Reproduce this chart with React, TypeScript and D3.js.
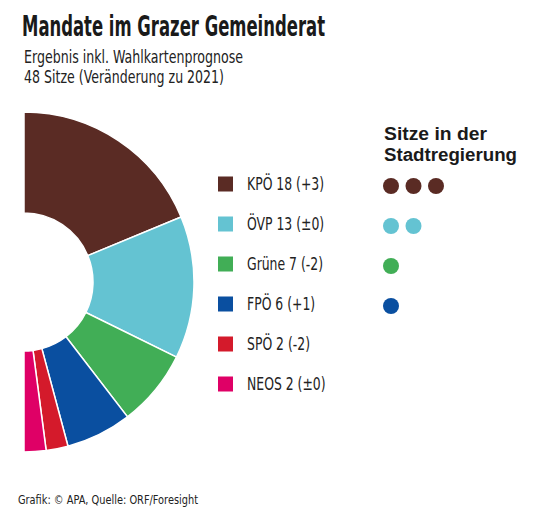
import * as d3 from "d3";
import { useRef, useEffect } from "react";

const parties = ["KPÖ", "ÖVP", "Grüne", "FPÖ", "SPÖ", "NEOS"];
const seats = [18, 13, 7, 6, 2, 2];
const changes = ["+3", "±0", "-2", "+1", "-2", "±0"];
const govSeats = [3, 2, 1, 1, 0, 0];
const colors = ["#5a2b24", "#64c3d2", "#41ae56", "#0a4fa0", "#d41a2b", "#df0066"];

const NARROW = "'Liberation Sans Narrow', 'DejaVu Sans Condensed', 'Roboto', sans-serif";
const BOLD = "'Liberation Sans', Arial, sans-serif";

function App() {
  const svgRef = useRef<SVGSVGElement>(null);

  useEffect(() => {
    const WIDTH = 556;
    const HEIGHT = 517;
    const svg = d3.select(svgRef.current).attr("width", WIDTH).attr("height", HEIGHT);
    svg.selectAll("*").remove();

    const data = parties.map((p, i) => ({ party: p, seats: seats[i], change: changes[i], gov: govSeats[i], color: colors[i] }));

    // title block
    svg.append("text")
      .attr("x", 22).attr("y", 35.5)
      .attr("font-family", NARROW).attr("font-weight", "bold").attr("font-size", 27.5)
      .attr("textLength", 303).attr("lengthAdjust", "spacingAndGlyphs")
      .attr("fill", "#1a1a1a")
      .text("Mandate im Grazer Gemeinderat");
    svg.append("text")
      .attr("x", 24).attr("y", 62.5)
      .attr("font-family", NARROW).attr("font-size", 17)
      .attr("textLength", 219).attr("lengthAdjust", "spacingAndGlyphs")
      .attr("fill", "#222")
      .text("Ergebnis inkl. Wahlkartenprognose");
    svg.append("text")
      .attr("x", 24).attr("y", 82.5)
      .attr("font-family", NARROW).attr("font-size", 17)
      .attr("textLength", 200).attr("lengthAdjust", "spacingAndGlyphs")
      .attr("fill", "#222")
      .text("48 Sitze (Veränderung zu 2021)");

    // half donut
    const pie = d3.pie<any>().value(d => d.seats).sort(null).startAngle(0).endAngle(Math.PI);
    const arc = d3.arc<any>().innerRadius(69).outerRadius(170);
    svg.append("g")
      .attr("transform", "translate(24, 282)")
      .selectAll("path")
      .data(pie(data))
      .join("path")
      .attr("d", arc)
      .attr("fill", d => d.data.color)
      .attr("stroke", "white")
      .attr("stroke-width", 1.5);

    // legend
    const y = d3.scalePoint<string>().domain(parties).range([184, 384]);
    const legend = svg.append("g").selectAll("g")
      .data(data)
      .join("g")
      .attr("transform", d => `translate(218, ${y(d.party)})`);
    legend.append("rect")
      .attr("x", 0).attr("y", -7.5).attr("width", 15).attr("height", 15)
      .attr("fill", d => d.color);
    legend.append("text")
      .attr("transform", "translate(29, 6) scale(0.79, 1)")
      .attr("font-family", NARROW).attr("font-size", 17.5)
      .attr("fill", "#222")
      .text(d => `${d.party} ${d.seats} (${d.change})`);

    // city government seats
    svg.append("text")
      .attr("x", 384).attr("y", 140)
      .attr("font-family", BOLD).attr("font-weight", "bold").attr("font-size", 18)
      .attr("textLength", 103).attr("lengthAdjust", "spacingAndGlyphs")
      .attr("fill", "#1a1a1a")
      .text("Sitze in der");
    svg.append("text")
      .attr("x", 384).attr("y", 161)
      .attr("font-family", BOLD).attr("font-weight", "bold").attr("font-size", 18)
      .attr("textLength", 133).attr("lengthAdjust", "spacingAndGlyphs")
      .attr("fill", "#1a1a1a")
      .text("Stadtregierung");

    const dotX = d3.scaleLinear().domain([0, 1]).range([391, 413.5]);
    legend.each(function (d) {
      d3.select(this).selectAll("circle")
        .data(d3.range(d.gov))
        .join("circle")
        .attr("cx", i => dotX(i) - 218)
        .attr("cy", 2)
        .attr("r", 8)
        .attr("fill", d.color);
    });

    // footer
    svg.append("text")
      .attr("x", 18).attr("y", 504)
      .attr("font-family", NARROW).attr("font-size", 13)
      .attr("textLength", 180).attr("lengthAdjust", "spacingAndGlyphs")
      .attr("fill", "#222")
      .text("Grafik: © APA, Quelle: ORF/Foresight");
  }, []);

  return (
    <div style={{ position: "absolute", left: 0, top: 0, background: "white" }}>
      <svg ref={svgRef} style={{ display: "block" }} />
    </div>
  );
}

export default App;
